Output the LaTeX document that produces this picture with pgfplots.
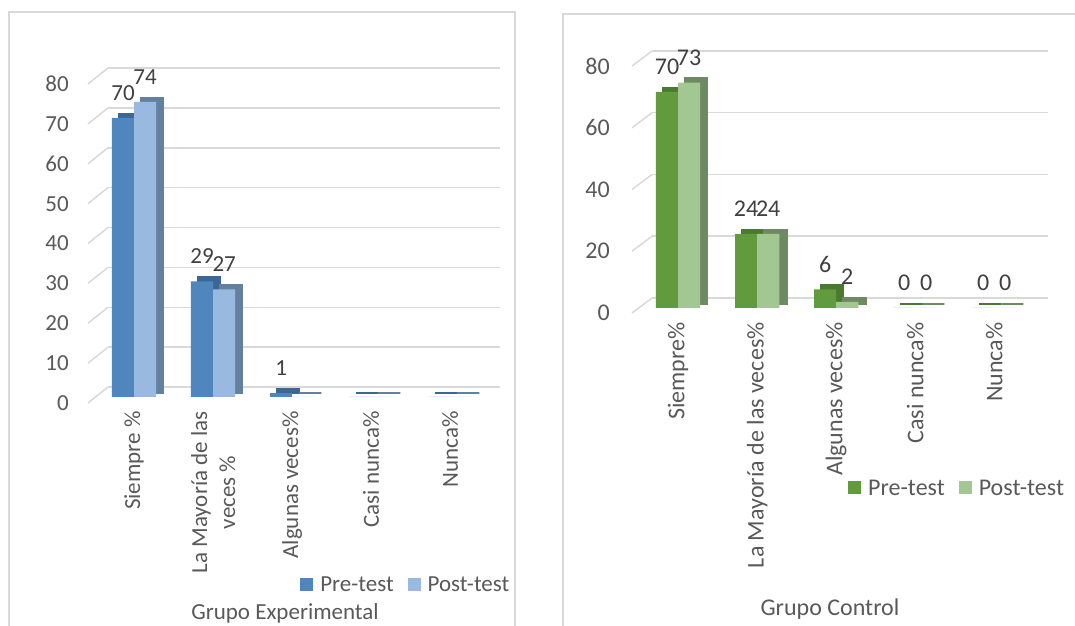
\documentclass[border=0pt]{standalone}
\usepackage{pgfplots}
\pgfplotsset{compat=1.18}
\usepackage{fontspec}
\setmainfont{Carlito}

\definecolor{gridgray}{HTML}{D9D9D9}
\definecolor{txt}{HTML}{595959}
\definecolor{lbl}{HTML}{404040}
\definecolor{bPre}{HTML}{4F86BE}
\definecolor{bPreD}{HTML}{3A6794}
\definecolor{bPost}{HTML}{9AB9E0}
\definecolor{bPostD}{HTML}{65809F}
\definecolor{gPre}{HTML}{629A3E}
\definecolor{gPreD}{HTML}{4A7A2E}
\definecolor{gPost}{HTML}{A2C790}
\definecolor{gPostD}{HTML}{6E8A63}

\newcommand\lf{\fontsize{23bp}{28bp}\selectfont}
\newcommand\rf{\fontsize{24bp}{28bp}\selectfont}

\pgfplotsset{
  panel/.style={
    scale only axis, ybar, ymin=0, ymax=80,
    xtick={0,...,4},
    axis line style={draw=none}, tick style={draw=none},
    ymajorgrids, grid style={gridgray, line width=1.5bp, yshift=10bp},
    enlarge x limits=false, clip=false,
    bar width=0.28,
    /pgf/number format/assume math mode=true,
    tick label style={text=txt},
    xticklabel style={inner sep=0pt, align=center, yshift=-10bp, rotate=90, anchor=east},
    yticklabel style={inner sep=0pt, anchor=east},
    every node near coord/.append style={text=lbl, anchor=center, yshift=25bp},
    legend columns=2,
    legend style={draw=none, fill=none, inner sep=0pt, text=txt,
                  /tikz/every odd column/.append style={column sep=5bp},
                  /tikz/every even column/.append style={column sep=12bp}},
    legend image code/.code={\fill[##1,draw=none] (0bp,-6bp) rectangle (13bp,7bp);},
  },
  depth/.style={line width=2.5bp, xshift=7bp, yshift=4bp, forget plot},
}

\begin{document}
\begin{tikzpicture}
\useasboundingbox (0,0) rectangle (1075bp,626bp);
\clip (0,0) rectangle (1075bp,626bp);

% panel frames
\draw[gridgray, line width=1.5bp] (9bp,-20bp) rectangle (515bp,614bp);
\draw[gridgray, line width=1.5bp] (563bp,-20bp) rectangle (1095bp,612bp);

% Grupo Experimental
\begin{axis}[panel,
    at={(108bp,229bp)}, anchor=south west,
    width=392bp, height=319bp,
    xmin=-0.33, xmax=4.63,
    ytick={0,10,...,80},
    tick label style={font=\lf},
    yticklabel style={xshift=-39bp, yshift=-6bp},
    xticklabels={Siempre \%, {La Mayoría de las\\veces \%}, Algunas veces\%, Casi nunca\%, Nunca\%},
    every node near coord/.append style={font=\lf},
    legend style={font=\lf, at={(0.49,-0.589)}, anchor=west},
  ]
  \pgfplotsinvokeforeach{0,10,...,80}{
    \draw[gridgray, line width=1.5bp] ([xshift=-20bp,yshift=-6bp]axis cs:-0.33,#1) -- ([yshift=10bp]axis cs:-0.33,#1);
  }
  % depth faces
  \addplot[fill=bPreD, draw=bPreD, bar shift=-0.14, depth]
    coordinates {(0,70) (1,29) (2,1) (3,0) (4,0)};
  \addplot[fill=bPostD, draw=bPostD, bar shift=0.14, depth]
    coordinates {(0,74) (1,27) (2,0) (3,0) (4,0)};
  % front faces
  \addplot[fill=bPre, draw=none, bar shift=-0.14,
    nodes near coords={\pgfmathfloatifflags{\pgfplotspointmeta}{0}{}{\pgfmathprintnumber{\pgfplotspointmeta}}}]
    coordinates {(0,70) (1,29) (2,1) (3,0) (4,0)};
  \addplot[fill=bPost, draw=none, bar shift=0.14,
    nodes near coords={\pgfmathfloatifflags{\pgfplotspointmeta}{0}{}{\pgfmathprintnumber{\pgfplotspointmeta}}}]
    coordinates {(0,74) (1,27) (2,0) (3,0) (4,0)};
  \legend{Pre-test, Post-test}
\end{axis}
\node[text=txt, font=\lf, anchor=base] at (285bp,7bp) {Grupo Experimental};

% Grupo Control
\begin{axis}[panel,
    at={(652bp,318bp)}, anchor=south west,
    width=396bp, height=247bp,
    xmin=-0.33, xmax=4.68,
    ytick={0,20,...,80},
    tick label style={font=\rf},
    yticklabel style={xshift=-42bp, yshift=-5bp},
    xticklabels={Siempre\%, La Mayoría de las veces\%, Algunas veces\%, Casi nunca\%, Nunca\%},
    every node near coord/.append style={font=\rf},
    legend style={font=\rf, at={(0.495,-0.729)}, anchor=west},
  ]
  \pgfplotsinvokeforeach{0,20,...,80}{
    \draw[gridgray, line width=1.5bp] ([xshift=-20bp,yshift=-5bp]axis cs:-0.33,#1) -- ([yshift=10bp]axis cs:-0.33,#1);
  }
  \addplot[fill=gPreD, draw=gPreD, bar shift=-0.14, depth]
    coordinates {(0,70) (1,24) (2,6) (3,0) (4,0)};
  \addplot[fill=gPostD, draw=gPostD, bar shift=0.14, depth]
    coordinates {(0,73) (1,24) (2,2) (3,0) (4,0)};
  \addplot[fill=gPre, draw=none, bar shift=-0.14, nodes near coords]
    coordinates {(0,70) (1,24) (2,6) (3,0) (4,0)};
  \addplot[fill=gPost, draw=none, bar shift=0.14, nodes near coords]
    coordinates {(0,73) (1,24) (2,2) (3,0) (4,0)};
  \legend{Pre-test, Post-test}
\end{axis}
\node[text=txt, font=\rf, anchor=base] at (830bp,11bp) {Grupo Control};
\end{tikzpicture}
\end{document}
